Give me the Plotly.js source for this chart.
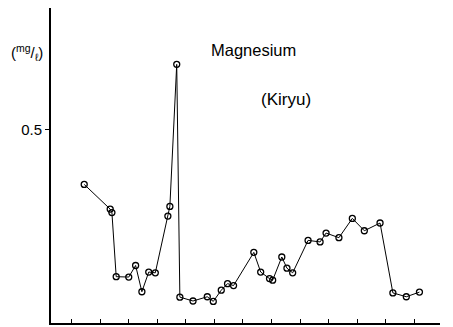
<!DOCTYPE html>
<html>
<head>
<meta charset="utf-8">
<script src="https://cdn.plot.ly/plotly-3.0.1.min.js"></script>
<style>html,body{margin:0;padding:0;background:#fff;}#chart{width:453px;height:327px;}</style>
</head>
<body>
<div id="chart"></div>
<script>
// Sampling positions (in x-tick units) and magnesium concentration (mg/l)
const samplePos = [0.44, 1.35, 1.41, 1.56, 2.00, 2.24, 2.46, 2.70, 2.93, 3.37, 3.44, 3.68,
  3.79, 4.25, 4.75, 4.96, 5.24, 5.46, 5.67, 6.38, 6.62, 6.93, 7.04, 7.36,
  7.54, 7.74, 8.28, 8.70, 8.91, 9.36, 9.83, 10.25, 10.80, 11.25, 11.72, 12.18];
const magnesium = [0.359, 0.295, 0.286, 0.120, 0.119, 0.149, 0.081, 0.132, 0.130, 0.277, 0.302, 0.670,
  0.067, 0.057, 0.068, 0.056, 0.085, 0.102, 0.097, 0.183, 0.132, 0.115, 0.111, 0.171,
  0.142, 0.130, 0.214, 0.210, 0.233, 0.221, 0.271, 0.239, 0.259, 0.078, 0.068, 0.080];
const xTicks = [0, 1, 2, 3, 4, 5, 6, 7, 8, 9, 10, 11, 12];
const yTicks = [0.5];
const yTickLabels = ['0.5'];

const trace = {
  x: samplePos, y: magnesium, type: 'scatter', mode: 'lines+markers',
  line: {color: '#000', width: 1},
  marker: {symbol: 'circle-open', size: 6, color: '#000', line: {width: 1.3, color: '#000'}},
  hoverinfo: 'skip'
};

const font = {family: 'Liberation Sans, Arial, sans-serif', color: '#000'};
const layout = {
  width: 453, height: 327,
  margin: {l: 51, r: 13, t: 8, b: 4},
  paper_bgcolor: '#fff', plot_bgcolor: '#fff',
  showlegend: false,
  font: font,
  xaxis: {
    range: [-0.723, 12.90], showgrid: false, zeroline: false,
    showline: true, linecolor: '#000', linewidth: 1.5,
    tickmode: 'array', tickvals: xTicks, ticks: 'inside', ticklen: 4, tickwidth: 1, tickcolor: '#000',
    showticklabels: false, fixedrange: true
  },
  yaxis: {
    range: [0, 0.816], showgrid: false, zeroline: false,
    showline: true, linecolor: '#000', linewidth: 2,
    tickmode: 'array', tickvals: yTicks, ticktext: yTickLabels,
    ticks: 'outside', ticklen: 4, tickwidth: 1, tickcolor: '#000',
    tickfont: {family: font.family, size: 15, color: '#000'}, fixedrange: true
  },
  annotations: [
    {xref: 'paper', yref: 'paper', x: 0.405, y: 0.867, xanchor: 'left', yanchor: 'middle',
     text: 'Magnesium', showarrow: false, font: {family: font.family, size: 16.5, color: '#000'}},
    {xref: 'paper', yref: 'paper', x: 0.535, y: 0.708, xanchor: 'left', yanchor: 'middle',
     text: '(Kiryu)', showarrow: false, font: {family: font.family, size: 17, color: '#000'}},
    {xref: 'paper', yref: 'paper', x: -0.015, y: 0.86, xanchor: 'right', yanchor: 'middle',
     text: '(<sup>mg</sup>/<sub>ℓ</sub>)', showarrow: false, font: {family: font.family, size: 15, color: '#000'}}
  ]
};

Plotly.newPlot('chart', [trace], layout, {displayModeBar: false, staticPlot: true});
</script>
</body>
</html>
